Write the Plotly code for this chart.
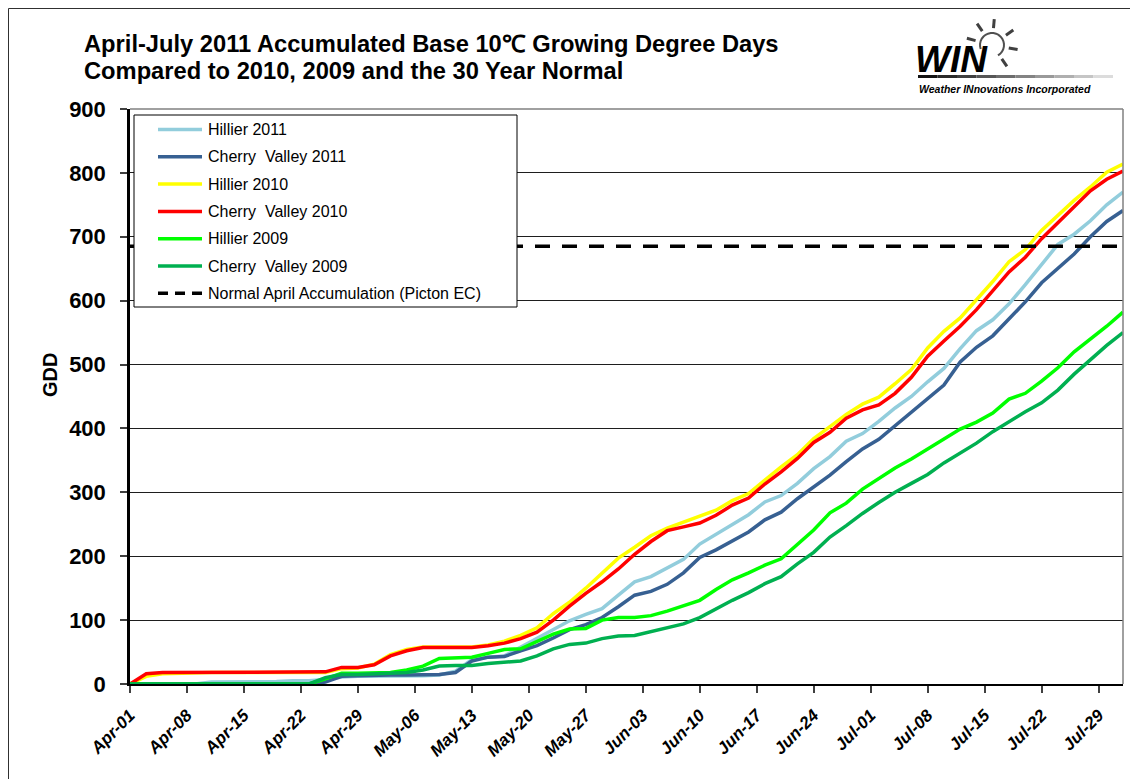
import math
import pandas as pd
import plotly.graph_objects as go

# ---------------- data (values read every 2 days, Apr-01 .. Aug-01) ----------------
dates = pd.date_range("2011-04-01", "2011-08-01", freq="2D")

hillier_2011 = [0, 0, 0, 0, 0, 3, 3, 4, 4, 4, 5, 5,
                7, 11, 12, 12, 12, 13, 13, 14, 20, 38, 42, 44,
                58, 72, 86, 99, 109, 118, 139, 160, 168, 181, 195, 219,
                234, 249, 265, 285, 295, 314, 337, 356, 380, 392, 411, 432,
                450, 473, 494, 525, 553, 570, 595, 625, 656, 688, 704, 725,
                750, 770]
cherry_2011 = [0, 0, 0, 0, 0, 0, 0, 0, 0, 0, 0, 0,
               3, 12, 13, 14, 14, 14, 14, 15, 18, 36, 42, 43,
               52, 60, 72, 85, 93, 104, 121, 139, 145, 156, 174, 198,
               210, 224, 238, 257, 269, 290, 309, 327, 348, 368, 383, 404,
               425, 446, 468, 504, 527, 545, 572, 598, 628, 650, 673, 700,
               724, 741]
hillier_2010 = [0, 12, 16, 17, 18, 18, 18, 18, 18, 18, 18, 18,
                18, 24, 25, 31, 46, 54, 58, 58, 58, 58, 61, 67,
                76, 88, 110, 128, 150, 173, 197, 214, 232, 244, 253, 262,
                272, 287, 298, 319, 340, 359, 384, 403, 422, 438, 449, 470,
                492, 526, 552, 573, 601, 630, 661, 680, 710, 734, 757, 778,
                801, 814]
cherry_2010 = [0, 16, 18, 18, 18, 18, 18, 18, 18, 18, 18, 18,
               19, 26, 26, 30, 44, 52, 57, 57, 57, 57, 60, 64,
               71, 81, 100, 122, 142, 160, 180, 203, 223, 240, 246, 252,
               264, 280, 291, 313, 332, 353, 378, 394, 416, 429, 437, 455,
               480, 513, 537, 560, 586, 615, 645, 668, 697, 722, 747, 772,
               790, 803]
hillier_2009 = [0, 0, 0, 0, 0, 0, 0, 0, 0, 0, 0, 0,
                8, 17, 17, 18, 18, 22, 28, 40, 41, 42, 48, 54,
                55, 66, 78, 86, 87, 100, 104, 104, 107, 114, 122, 131,
                148, 163, 174, 186, 196, 218, 241, 268, 283, 305, 322, 338,
                352, 368, 383, 399, 410, 424, 446, 455, 474, 495, 520, 540,
                560, 582]
cherry_2009 = [0, 0, 0, 0, 0, 0, 0, 0, 0, 0, 0, 0,
               10, 15, 15, 16, 16, 18, 22, 28, 29, 29, 32, 34,
               36, 44, 55, 62, 64, 71, 75, 76, 82, 87, 94, 104,
               118, 131, 143, 157, 168, 188, 206, 230, 248, 267, 284, 300,
               314, 328, 346, 362, 377, 395, 411, 426, 440, 460, 485, 508,
               530, 550]
normal_gdd = 685

series_names = ["Hillier 2011", "Cherry\u00a0 Valley 2011", "Hillier 2010",
                "Cherry\u00a0 Valley 2010", "Hillier 2009", "Cherry\u00a0 Valley 2009"]
series_values = [hillier_2011, cherry_2011, hillier_2010, cherry_2010, hillier_2009, cherry_2009]
series_colors = ["#92CDDC", "#376092", "#FFFF00", "#FF0000", "#00FF00", "#00B050"]
normal_name = "Normal April Accumulation (Picton EC)"

# ---------------- geometry (page body has an 8px margin) ----------------
OFF = 8
W, H = 1138 - OFF, 779 - OFF
ML, MR, MT, MB = 130 - OFF, 15, 109 - OFF, 95
PW, PH = W - ML - MR, H - MT - MB


def xp(px):  # reference-screen pixel x -> paper
    return (px - OFF - ML) / PW


def yp(py):  # reference-screen pixel y -> paper
    return (H - MB - (py - OFF)) / PH


FONT = "Liberation Sans, Arial, sans-serif"

fig = go.Figure()
for name, vals, col in zip(series_names, series_values, series_colors):
    fig.add_trace(go.Scatter(x=dates, y=vals, mode="lines", name=name,
                             line=dict(color=col, width=3.5)))
fig.add_trace(go.Scatter(x=[dates[0], dates[-1]], y=[normal_gdd, normal_gdd],
                         mode="lines", name=normal_name,
                         line=dict(color="black", width=3.5, dash="15px,12px")))

shapes = []
annotations = []
# outer chart border (left/top visible)
shapes.append(dict(type="rect", xref="paper", yref="paper", x0=xp(8.5), y0=yp(8.5),
                   x1=xp(1160), y1=yp(800), line=dict(color="#303030", width=1),
                   layer="below"))
# plot area top/right border
shapes.append(dict(type="line", xref="paper", yref="paper", x0=0, x1=1, y0=1, y1=1,
                   line=dict(color="#808080", width=1.5), layer="above"))
shapes.append(dict(type="line", xref="paper", yref="paper", x0=1, x1=1, y0=0, y1=1,
                   line=dict(color="#808080", width=1.5), layer="above"))
# legend box
shapes.append(dict(type="rect", xref="paper", yref="paper", x0=xp(134), y0=yp(115),
                   x1=xp(517), y1=yp(307), fillcolor="white",
                   line=dict(color="black", width=1), layer="above"))
leg_names = series_names + [normal_name]
leg_colors = series_colors + ["black"]
for i, (nm, col) in enumerate(zip(leg_names, leg_colors)):
    yy = 129.5 + 27.3 * i
    shapes.append(dict(type="line", xref="paper", yref="paper",
                       x0=xp(158), x1=xp(202), y0=yp(yy), y1=yp(yy),
                       line=dict(color=col, width=3.5,
                                 dash="10px,7px" if i == 6 else "solid"),
                       layer="above"))
    annotations.append(dict(text=nm, xref="paper", yref="paper", x=xp(206), y=yp(yy),
                            xanchor="left", yanchor="middle", showarrow=False,
                            font=dict(family=FONT, size=16, color="black")))

# logo underline bar (fading)
nseg = 10
for k in range(nseg):
    g = int(20 + 200 * k / (nseg - 1))
    shapes.append(dict(type="rect", xref="paper", yref="paper",
                       x0=xp(918 + k * 19.5), x1=xp(918 + (k + 1) * 19.5),
                       y0=yp(78), y1=yp(75), fillcolor=f"rgb({g},{g},{g})",
                       line=dict(width=0), layer="above"))
# logo sun arc + rays
cx, cy, r = 992, 45, 12
pts = []
for k in range(0, 21):
    a = math.radians(200 - k * 13)
    pts.append((cx + r * math.cos(a), cy - r * math.sin(a)))
path = "M " + " L ".join(f"{xp(x):.5f},{yp(y):.5f}" for x, y in pts)
shapes.append(dict(type="path", xref="paper", yref="paper", path=path,
                   line=dict(color="#505050", width=2), layer="above"))
for ang in [165, 125, 85, 35, -10, -55]:
    a = math.radians(ang)
    x0, y0 = cx + 17 * math.cos(a), cy - 17 * math.sin(a)
    x1, y1 = cx + 26 * math.cos(a), cy - 26 * math.sin(a)
    shapes.append(dict(type="line", xref="paper", yref="paper",
                       x0=xp(x0), y0=yp(y0), x1=xp(x1), y1=yp(y1),
                       line=dict(color="#404040", width=3), layer="above"))

annotations += [
    dict(text="<b>April-July 2011 Accumulated Base 10℃ Growing Degree Days</b>",
         xref="paper", yref="paper", x=xp(82), y=yp(44), xanchor="left", yanchor="middle",
         showarrow=False, font=dict(family=FONT, size=23.7, color="black")),
    dict(text="<b>Compared to 2010, 2009 and the 30 Year Normal</b>",
         xref="paper", yref="paper", x=xp(82), y=yp(71), xanchor="left", yanchor="middle",
         showarrow=False, font=dict(family=FONT, size=23.7, color="black")),
    dict(text="<b><i>WIN</i></b>", xref="paper", yref="paper", x=xp(913), y=yp(59),
         xanchor="left", yanchor="middle", showarrow=False,
         font=dict(family=FONT, size=37, color="black")),
    dict(text="<b><i>Weather INnovations Incorporated</i></b>", xref="paper", yref="paper",
         x=xp(917), y=yp(89), xanchor="left", yanchor="middle", showarrow=False,
         font=dict(family=FONT, size=10.5, color="black")),
    dict(text="<b>GDD</b>", xref="paper", yref="paper", x=xp(50), y=yp(375),
         xanchor="center", yanchor="middle", textangle=-90, showarrow=False,
         font=dict(family=FONT, size=20, color="black")),
]

fig.update_layout(
    width=W, height=H,
    margin=dict(l=ML, r=MR, t=MT, b=MB, pad=0),
    paper_bgcolor="white", plot_bgcolor="white",
    font=dict(family=FONT, color="black"),
    showlegend=False,
    shapes=shapes,
    annotations=annotations,
    xaxis=dict(
        type="date", range=[dates[0], dates[-1]],
        tick0="2011-04-01", dtick=7 * 86400000, tickformat="%b-%d",
        tickangle=-45, ticks="outside", ticklen=7, tickwidth=1.5, tickcolor="#404040",
        showgrid=False, zeroline=False,
        showline=True, linecolor="black", linewidth=1.5,
        tickfont=dict(family=FONT, size=17, color="black", weight="bold", style="italic"),
        ticklabelstandoff=6,
    ),
    yaxis=dict(
        range=[0, 900], dtick=100, tick0=0,
        ticks="outside", ticklen=7, tickwidth=1.5, tickcolor="#404040",
        showgrid=True, gridcolor="#1e1e1e", gridwidth=1,
        zeroline=False, showline=True, linecolor="black", linewidth=2.5,
        tickfont=dict(family=FONT, size=22, color="black", weight="bold"),
        ticklabelstandoff=10,
    ),
)

fig.write_html("out.html")
